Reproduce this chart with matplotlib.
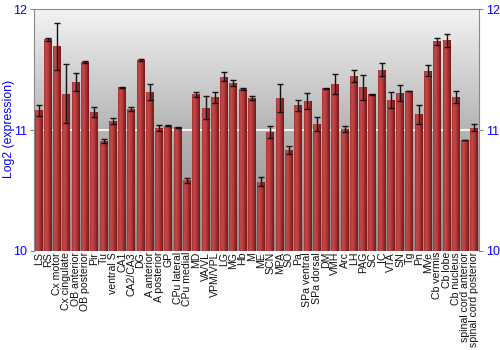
import numpy as np
import matplotlib
matplotlib.use("Agg")
import matplotlib.pyplot as plt
from matplotlib.colors import LinearSegmentedColormap

plt.rcParams['font.family'] = ['Liberation Sans', 'DejaVu Sans']

regions = ["LS", "RS", "Cx motor", "Cx cingulate", "OB anterior", "OB posterior", "Pir", "Tu",
           "ventral S", "CA1", "CA2/CA3", "DG", "A anterior", "A posterior", "GP", "CPu lateral",
           "CPu medial", "MD", "VA/VL", "VPM/VPL", "LG", "MG", "Hb", "M", "ME", "SCN", "MPA", "SO",
           "Pa", "SPa ventral", "SPa dorsal", "DM", "VMH", "Arc", "LH", "PAG", "SC", "IC", "VTA",
           "SN", "Tg", "Pn", "MVe", "Cb vermis", "Cb lobe", "Cb nucleus", "spinal cord anterior",
           "spinal cord posterior"]
values = [11.163, 11.754, 11.693, 11.301, 11.398, 11.564, 11.149, 10.909,
          11.072, 11.354, 11.174, 11.580, 11.315, 11.017, 11.036, 11.022,
          10.583, 11.296, 11.185, 11.271, 11.442, 11.390, 11.337, 11.265, 10.572, 10.983, 11.265, 10.834,
          11.204, 11.243, 11.050, 11.348, 11.380, 11.008, 11.448, 11.354, 11.296, 11.500, 11.251,
          11.307, 11.323, 11.130, 11.492, 11.735, 11.743, 11.276, 10.917,
          11.019]
errors = [0.048, 0.012, 0.195, 0.245, 0.075, 0.011, 0.044, 0.017,
          0.025, 0.006, 0.018, 0.006, 0.065, 0.028, 0.003, 0.003,
          0.022, 0.021, 0.094, 0.047, 0.039, 0.021, 0.008, 0.017, 0.037, 0.048, 0.119, 0.033,
          0.044, 0.065, 0.057, 0.004, 0.083, 0.023, 0.050, 0.102, 0.003, 0.052, 0.068,
          0.069, 0.003, 0.077, 0.047, 0.030, 0.057, 0.051, 0.003,
          0.030]
yticks = [10, 11, 12]

fig = plt.figure(figsize=(5, 3.5), dpi=100)
ax = fig.add_axes([0.068, 0.284, 0.89, 0.689])
ax.set_xlim(-0.5, len(regions) - 0.5)
ax.set_ylim(10, 12)

# background gradient
bg = LinearSegmentedColormap.from_list("bg", ["#8e8e8e", "#b4b4b4", "#f3f3f3"])
ax.imshow(np.linspace(0, 1, 256).reshape(-1, 1), aspect='auto', cmap=bg,
          extent=[-0.5, len(regions) - 0.5, 10, 12], origin='lower', zorder=0)
ax.axhline(11, color='white', lw=1.2, zorder=1)

x = np.arange(len(regions))
bars = ax.bar(x, np.array(values) - 10, bottom=10, width=0.86, color='#b03535',
              edgecolor='none', zorder=2)
barcm = LinearSegmentedColormap.from_list("bar", ["#a83030", "#c44c4c", "#b83c3c", "#9a2a2a", "#6e1818"])
grad = np.linspace(0, 1, 64).reshape(1, -1)
for b in bars:
    x0, y0, w, h = b.get_x(), b.get_y(), b.get_width(), b.get_height()
    im = ax.imshow(grad, aspect='auto', cmap=barcm, extent=[x0, x0 + w, y0, y0 + h],
                   zorder=2.5)
    im.set_clip_path(b)

ax.errorbar(x, values, yerr=errors, fmt='none', ecolor='#111111', elinewidth=1,
            capsize=2, capthick=1, zorder=3)

ax.set_xticks(x)
ax.set_xticklabels(regions, rotation=90, fontsize=7.6, color='#111111')
ax.tick_params(axis='x', length=0, pad=1)
ax.set_yticks(yticks)
ax.set_yticklabels([str(t) for t in yticks])
ax.tick_params(axis='y', colors='#888888', labelcolor='blue', labelsize=9, length=3,
               direction='out', right=True, labelright=True, left=True, labelleft=True, pad=2)
ax.set_ylabel("Log2 (expression)", color='blue', fontsize=8.8)
ax.yaxis.set_label_coords(-0.043, 0.504)
for s in ax.spines.values():
    s.set_color('#888888')
ax.spines['bottom'].set_visible(False)

fig.savefig("out.png", dpi=100)
